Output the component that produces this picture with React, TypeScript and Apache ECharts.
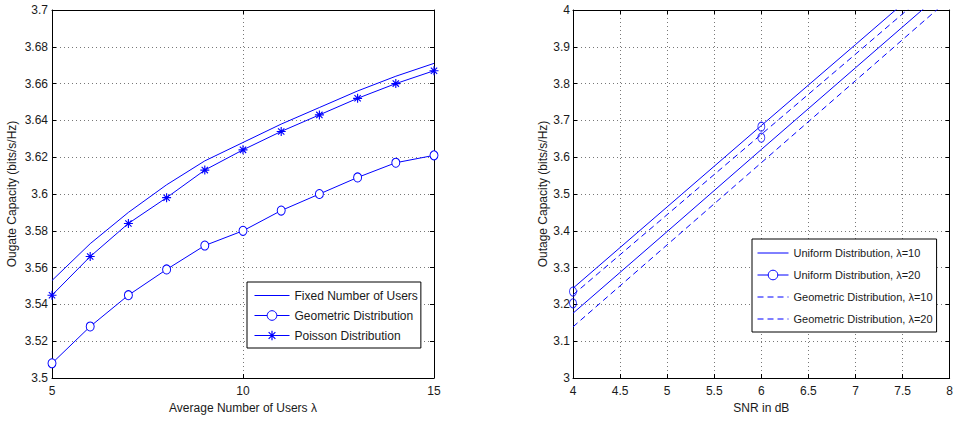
import React, { useEffect, useRef } from 'react';
import * as echarts from 'echarts';

// Left panel: outage capacity vs. average number of users
const usersLambda = [5, 6, 7, 8, 9, 10, 11, 12, 13, 14, 15];
const fixedUsers = [3.553, 3.573, 3.590, 3.605, 3.618, 3.628, 3.638, 3.647, 3.656, 3.664, 3.671];
const geometricUsers = [3.508, 3.528, 3.545, 3.559, 3.572, 3.580, 3.591, 3.600, 3.609, 3.617, 3.621];
const poissonUsers = [3.545, 3.566, 3.584, 3.598, 3.613, 3.624, 3.634, 3.643, 3.652, 3.660, 3.667];

// Right panel: outage capacity vs. SNR
const snrDb = [4, 5, 6, 7, 8];
const uniformL10 = [3.176, 3.398, 3.621, 3.843, 4.065];
const uniformL20 = [3.244, 3.465, 3.686, 3.906, 4.127];
const geometricL10 = [3.139, 3.362, 3.585, 3.808, 4.031];
const geometricL20 = [3.226, 3.444, 3.662, 3.880, 4.099];
const uniformL20MarkerSnr = [4, 4, 6, 6];
const uniformL20MarkerVal = [3.235, 3.203, 3.683, 3.653];

const leftNames = ['Fixed Number of Users', 'Geometric Distribution', 'Poisson Distribution'];
const rightNames = [
  'Uniform Distribution, λ=10',
  'Uniform Distribution, λ=20',
  'Geometric Distribution, λ=10',
  'Geometric Distribution, λ=20',
];

const BLUE = '#0000ff';
const FONT = "'Liberation Sans', Arial, Helvetica, sans-serif";
const TXT = '#1a1a1a';
const FS = 12;
const ASTERISK =
  'path://M0,8.75H20V11.25H0Z M8.75,0H11.25V20H8.75Z M2.12,3.88L3.88,2.12L17.88,16.12L16.12,17.88Z M16.12,2.12L17.88,3.88L3.88,17.88L2.12,16.12Z';

const pairs = (xs: number[], ys: number[]) => xs.map((x, i) => [x, ys[i]]);

function mainX(gridIndex: number, min: number, max: number, interval: number, name: string, nameGap: number) {
  return {
    type: 'value', gridIndex, min, max, interval, position: 'bottom',
    name, nameLocation: 'middle', nameGap,
    nameTextStyle: { color: TXT, fontSize: FS, fontFamily: FONT },
    axisLine: { show: true, lineStyle: { color: '#000', width: 1 } },
    axisTick: { show: true, inside: true, length: 4, lineStyle: { color: '#000' } },
    axisLabel: { color: TXT, fontSize: FS, fontFamily: FONT, margin: 7 },
    splitLine: { show: true, lineStyle: { color: '#777', type: [1, 3], width: 1 } },
  };
}
function topX(gridIndex: number, min: number, max: number, interval: number) {
  return {
    type: 'value', gridIndex, min, max, interval, position: 'top',
    axisLine: { show: true, lineStyle: { color: '#000', width: 1 } },
    axisTick: { show: true, inside: true, length: 4, lineStyle: { color: '#000' } },
    axisLabel: { show: false },
    splitLine: { show: false },
  };
}
function mainY(gridIndex: number, min: number, max: number, interval: number, name: string, nameGap: number, margin: number) {
  return {
    type: 'value', gridIndex, min, max, interval, position: 'left',
    name, nameLocation: 'middle', nameGap, nameRotate: 90,
    nameTextStyle: { color: TXT, fontSize: FS, fontFamily: FONT },
    axisLine: { show: true, lineStyle: { color: '#000', width: 1 } },
    axisTick: { show: true, inside: true, length: 4, lineStyle: { color: '#000' } },
    axisLabel: { color: TXT, fontSize: FS, fontFamily: FONT, margin },
    splitLine: { show: true, lineStyle: { color: '#777', type: [1, 3], width: 1 } },
  };
}
function rightY(gridIndex: number, min: number, max: number, interval: number) {
  return {
    type: 'value', gridIndex, min, max, interval, position: 'right',
    axisLine: { show: true, lineStyle: { color: '#000', width: 1 } },
    axisTick: { show: true, inside: true, length: 4, lineStyle: { color: '#000' } },
    axisLabel: { show: false },
    splitLine: { show: false },
  };
}

export default function App() {
  const ref = useRef<HTMLDivElement>(null);
  useEffect(() => {
    if (!ref.current) return;
    const chart = echarts.init(ref.current, null, { renderer: 'svg' });
    const lineBase = { type: 'line', color: BLUE, animation: false, z: 3 };
    const hollow = { color: '#fff', borderColor: BLUE, borderWidth: 1 };
    const solidLegend = { color: BLUE, width: 1, type: 'solid' };
    const dashLegend = { color: BLUE, width: 1, type: [6, 4] };
    const hideMark = { opacity: 0 };
    const option = {
      animation: false,
      backgroundColor: '#fff',
      grid: [
        { left: 52, top: 10, width: 382, height: 368 },
        { left: 573, top: 10, width: 380, height: 368 },
      ],
      xAxis: [
        mainX(0, 5, 15, 5, 'Average Number of Users λ', 23),
        topX(0, 5, 15, 5),
        mainX(1, 4, 8, 0.5, 'SNR in dB', 23),
        topX(1, 4, 8, 0.5),
      ],
      yAxis: [
        mainY(0, 3.5, 3.7, 0.02, 'Ougate Capacity (bits/s/Hz)', 34, 4),
        rightY(0, 3.5, 3.7, 0.02),
        mainY(1, 3, 4, 0.1, 'Outage Capacity (bits/s/Hz)', 23, 3),
        rightY(1, 3, 4, 0.1),
      ],
      legend: [
        {
          data: [
            { name: leftNames[0], itemStyle: hideMark, lineStyle: solidLegend },
            { name: leftNames[1], itemStyle: { borderWidth: 1 }, lineStyle: solidLegend },
            { name: leftNames[2], lineStyle: solidLegend },
          ],
          orient: 'vertical', left: 247, top: 282,
          itemWidth: 35, itemHeight: 12, itemGap: 8,
          padding: [7.5, 3, 6.5, 7],
          backgroundColor: '#fff', borderColor: '#000', borderWidth: 1,
          textStyle: { color: TXT, fontSize: FS, fontFamily: FONT },
          selectedMode: false,
        },
        {
          data: [
            { name: rightNames[0], itemStyle: hideMark, lineStyle: solidLegend },
            { name: rightNames[1], itemStyle: { borderWidth: 1 }, lineStyle: solidLegend },
            { name: rightNames[2], itemStyle: hideMark, lineStyle: dashLegend },
            { name: rightNames[3], itemStyle: hideMark, lineStyle: dashLegend },
          ],
          orient: 'vertical', left: 752, top: 239,
          itemWidth: 31, itemHeight: 12, itemGap: 11,
          padding: [8.5, 4, 7.5, 5],
          backgroundColor: '#fff', borderColor: '#000', borderWidth: 1,
          textStyle: { color: TXT, fontSize: 11, fontFamily: FONT },
          selectedMode: false,
        },
      ],
      series: [
        {
          ...lineBase, name: leftNames[0], xAxisIndex: 0, yAxisIndex: 0,
          data: pairs(usersLambda, fixedUsers), symbol: 'none',
          lineStyle: { color: BLUE, width: 1 },
        },
        {
          ...lineBase, name: leftNames[1], xAxisIndex: 0, yAxisIndex: 0,
          data: pairs(usersLambda, geometricUsers), symbol: 'circle', symbolSize: [8, 9],
          showSymbol: true,
          itemStyle: hollow,
          lineStyle: { color: BLUE, width: 1 },
        },
        {
          ...lineBase, name: leftNames[2], xAxisIndex: 0, yAxisIndex: 0,
          data: pairs(usersLambda, poissonUsers), symbol: ASTERISK, symbolSize: 9,
          showSymbol: true,
          itemStyle: { color: BLUE },
          lineStyle: { color: BLUE, width: 1 },
        },
        {
          ...lineBase, name: rightNames[0], xAxisIndex: 2, yAxisIndex: 2,
          data: pairs(snrDb, uniformL10), symbol: 'none',
          lineStyle: { color: BLUE, width: 1 },
        },
        {
          ...lineBase, name: rightNames[1], xAxisIndex: 2, yAxisIndex: 2,
          data: pairs(snrDb, uniformL20), symbol: 'circle', showSymbol: false,
          itemStyle: hollow,
          lineStyle: { color: BLUE, width: 1 },
        },
        {
          ...lineBase, name: rightNames[2], xAxisIndex: 2, yAxisIndex: 2,
          data: pairs(snrDb, geometricL10), symbol: 'none',
          lineStyle: { color: BLUE, width: 1, type: [6, 4] },
        },
        {
          ...lineBase, name: rightNames[3], xAxisIndex: 2, yAxisIndex: 2,
          data: pairs(snrDb, geometricL20), symbol: 'none',
          lineStyle: { color: BLUE, width: 1, type: [6, 4] },
        },
        {
          type: 'scatter', name: 'uniformL20Markers', xAxisIndex: 2, yAxisIndex: 2,
          data: pairs(uniformL20MarkerSnr, uniformL20MarkerVal),
          symbol: 'circle', symbolSize: [7, 9],
          itemStyle: { color: 'rgba(255,255,255,0)', borderColor: BLUE, borderWidth: 1 },
          z: 4,
        },
      ],
    };
    chart.setOption(option as any);
    return () => chart.dispose();
  }, []);
  return (
    <div
      ref={ref}
      style={{ position: 'absolute', left: 0, top: 0, width: 956, height: 421, background: '#fff' }}
    />
  );
}
